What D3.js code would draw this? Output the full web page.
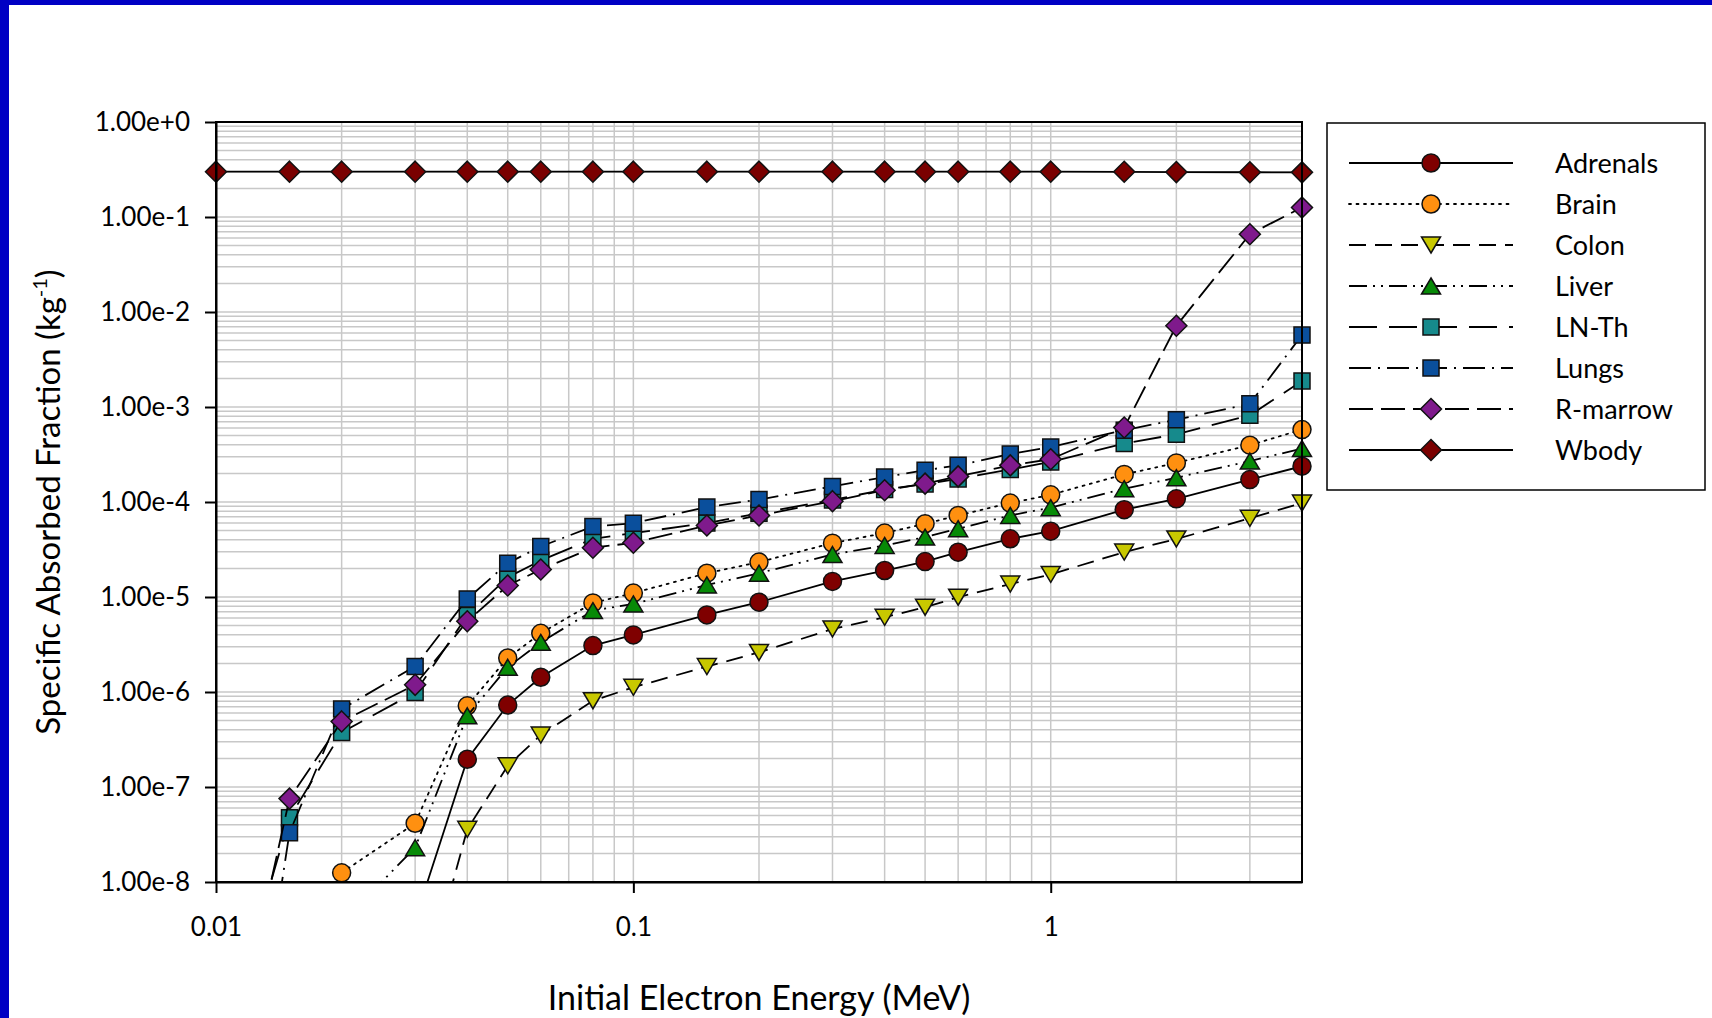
<!DOCTYPE html>
<html>
<head>
<meta charset="utf-8">
<script src="https://cdn.jsdelivr.net/npm/d3@7"></script>
<style>
  body { margin: 0; background: #fff; }
  svg { display: block; }
</style>
</head>
<body>
<svg id="chart" width="1712" height="1018"></svg>
<script>
// energies (MeV) and SAF values (kg^-1)
const energies = [0.01, 0.015, 0.02, 0.03, 0.04, 0.05, 0.06, 0.08, 0.1, 0.15, 0.2, 0.3, 0.4, 0.5, 0.6, 0.8, 1, 1.5, 2, 3, 4];

const adrenals = [null, null, null, 4.0e-9, 1.96e-7, 7.29e-7, 1.43e-6, 3.08e-6, 3.99e-6, 6.48e-6, 8.81e-6, 1.46e-5, 1.9e-5, 2.36e-5, 2.96e-5, 4.1e-5, 4.93e-5, 8.3e-5, 1.08e-4, 1.72e-4, 2.38e-4];
const brain = [null, null, 1.25e-8, 4.15e-8, 7.16e-7, 2.28e-6, 4.15e-6, 8.67e-6, 1.1e-5, 1.78e-5, 2.33e-5, 3.69e-5, 4.71e-5, 5.9e-5, 7.22e-5, 9.75e-5, 1.19e-4, 1.95e-4, 2.58e-4, 3.96e-4, 5.79e-4];
const colon = [null, null, null, 3.5e-10, 3.59e-8, 1.67e-7, 3.52e-7, 8.09e-7, 1.12e-6, 1.85e-6, 2.61e-6, 4.61e-6, 6.12e-6, 7.8e-6, 9.94e-6, 1.37e-5, 1.73e-5, 2.97e-5, 4.08e-5, 6.73e-5, 9.75e-5];
const liver = [null, null, 3.7e-9, 2.3e-8, 5.62e-7, 1.82e-6, 3.33e-6, 7.19e-6, 8.46e-6, 1.34e-5, 1.78e-5, 2.8e-5, 3.49e-5, 4.27e-5, 5.23e-5, 7.22e-5, 8.71e-5, 1.38e-4, 1.8e-4, 2.7e-4, 3.65e-4];
const lnTh = [1e-10, 4.76e-8, 3.75e-7, 9.9e-7, 6.37e-6, 1.61e-5, 2.42e-5, 4.1e-5, 4.7e-5, 6.0e-5, 7.6e-5, 1.05e-4, 1.35e-4, 1.55e-4, 1.75e-4, 2.2e-4, 2.64e-4, 4.12e-4, 5.16e-4, 8.19e-4, 1.88e-3];
const lungs = [3e-13, 3.3e-8, 6.61e-7, 1.86e-6, 9.55e-6, 2.27e-5, 3.4e-5, 5.53e-5, 5.98e-5, 8.85e-5, 1.06e-4, 1.46e-4, 1.83e-4, 2.16e-4, 2.43e-4, 3.2e-4, 3.8e-4, 5.7e-4, 7.35e-4, 1.08e-3, 5.71e-3];
const rMarrow = [2.5e-11, 7.55e-8, 4.9e-7, 1.19e-6, 5.55e-6, 1.32e-5, 1.95e-5, 3.3e-5, 3.72e-5, 5.66e-5, 7.22e-5, 1.02e-4, 1.33e-4, 1.56e-4, 1.86e-4, 2.43e-4, 2.82e-4, 6.08e-4, 7.16e-3, 6.59e-2, 0.126];
const wbody = [0.30, 0.30, 0.30, 0.30, 0.30, 0.30, 0.30, 0.30, 0.30, 0.30, 0.30, 0.30, 0.30, 0.30, 0.30, 0.30, 0.30, 0.299, 0.297, 0.296, 0.295];

const seriesNames = ['Adrenals', 'Brain', 'Colon', 'Liver', 'LN-Th', 'Lungs', 'R-marrow', 'Wbody'];
const seriesValues = [adrenals, brain, colon, liver, lnTh, lungs, rMarrow, wbody];

const xTicks = [0.01, 0.1, 1];
const xTickLabels = ['0.01', '0.1', '1'];
const yTicks = [1, 1e-1, 1e-2, 1e-3, 1e-4, 1e-5, 1e-6, 1e-7, 1e-8];
const yTickLabels = ['1.00e+0', '1.00e-1', '1.00e-2', '1.00e-3', '1.00e-4', '1.00e-5', '1.00e-6', '1.00e-7', '1.00e-8'];

// look of each series
const styles = {
  'Adrenals': { color: '#7f0000', symbol: 'circle', dash: null },
  'Brain': { color: '#ff9010', symbol: 'circle', dash: '2 5.5' },
  'Colon': { color: '#c8c800', symbol: 'triangleDown', dash: '17 9' },
  'Liver': { color: '#078a07', symbol: 'triangleUp', dash: '18 6 2 6 2 6' },
  'LN-Th': { color: '#168a8c', symbol: 'square', dash: '28 12' },
  'Lungs': { color: '#0a4f9c', symbol: 'square', dash: '22 7 2 7' },
  'R-marrow': { color: '#7f1a8c', symbol: 'diamond', dash: '24 8' },
  'Wbody': { color: '#7a0000', symbol: 'diamond', dash: null }
};

const font = 'Lato, "Open Sans", sans-serif';
const plot = { left: 216, top: 122, right: 1302, bottom: 882 };

const svg = d3.select('#chart');

// blue slide frame
svg.append('rect').attr('width', 1712).attr('height', 1018).attr('fill', '#fff');
svg.append('rect').attr('width', 1712).attr('height', 5).attr('fill', '#0000c4');
svg.append('rect').attr('width', 9).attr('height', 1018).attr('fill', '#0000c4');

const x = d3.scaleLog().domain([0.01, 4]).range([plot.left, plot.right]);
const y = d3.scaleLog().domain([1e-8, 1]).range([plot.bottom, plot.top]);

// minor grid positions
const xGrid = [];
[-2, -1, 0].forEach(k => {
  for (let m = 1; m <= 9; m++) {
    const v = m * Math.pow(10, k);
    if (v <= 4) { xGrid.push(v); }
  }
});
const yGrid = [];
for (let k = -8; k < 0; k++) {
  for (let m = 1; m <= 9; m++) { yGrid.push(m * Math.pow(10, k)); }
}

const grid = svg.append('g')
  .attr('stroke', '#c8c8c8')
  .attr('stroke-width', 1.5);
grid.selectAll('line.h')
  .data(yGrid)
  .join('line')
  .attr('class', 'h')
  .attr('x1', plot.left).attr('x2', plot.right)
  .attr('y1', d => y(d)).attr('y2', d => y(d));
grid.selectAll('line.v')
  .data(xGrid)
  .join('line')
  .attr('class', 'v')
  .attr('y1', plot.top).attr('y2', plot.bottom)
  .attr('x1', d => x(d)).attr('x2', d => x(d));

// markers, centred on their bounding box like Excel does
function markerPath(type) {
  switch (type) {
    case 'circle': return d3.arc()({ innerRadius: 0, outerRadius: 9, startAngle: 0, endAngle: 2 * Math.PI });
    case 'square': return 'M-8,-8H8V8H-8Z';
    case 'diamond': return 'M0,-10.5L10.5,0L0,10.5L-10.5,0Z';
    case 'triangleUp': return 'M0,-8L9.5,8H-9.5Z';
    case 'triangleDown': return 'M0,8L9.5,-8H-9.5Z';
  }
}

svg.append('defs').append('clipPath').attr('id', 'plotClip')
  .append('rect')
  .attr('x', plot.left).attr('y', plot.top)
  .attr('width', plot.right - plot.left).attr('height', plot.bottom - plot.top);

const line = d3.line()
  .defined(d => d.v != null)
  .x(d => x(d.e))
  .y(d => y(d.v));

const series = seriesNames.map((name, i) => ({
  name,
  points: energies.map((e, j) => ({ e, v: seriesValues[i][j] }))
}));

const gSeries = svg.append('g');
series.forEach(s => {
  const st = styles[s.name];
  const g = gSeries.append('g');
  g.append('path')
    .attr('clip-path', 'url(#plotClip)')
    .attr('d', line(s.points))
    .attr('fill', 'none')
    .attr('stroke', '#000')
    .attr('stroke-width', 1.8)
    .attr('stroke-dasharray', st.dash)
    .attr('stroke-linecap', st.dash === '2 5.5' ? 'round' : 'butt');
  g.selectAll('path.m')
    .data(s.points.filter(p => p.v != null && p.v >= 1e-8))
    .join('path')
    .attr('class', 'm')
    .attr('transform', p => `translate(${ x(p.e) },${ y(p.v) })`)
    .attr('d', markerPath(st.symbol))
    .attr('fill', st.color)
    .attr('stroke', '#111')
    .attr('stroke-width', 1.5);
});

// plot frame
svg.append('rect')
  .attr('x', plot.left).attr('y', plot.top)
  .attr('width', plot.right - plot.left).attr('height', plot.bottom - plot.top)
  .attr('fill', 'none')
  .attr('stroke', '#000')
  .attr('stroke-width', 2);

// axes
const yAxis = svg.append('g')
  .attr('transform', `translate(${ plot.left },0)`)
  .call(d3.axisLeft(y).tickValues(yTicks).tickFormat((d, i) => yTickLabels[i]).tickSize(11).tickSizeOuter(0).tickPadding(15));
const xAxis = svg.append('g')
  .attr('transform', `translate(0,${ plot.bottom })`)
  .call(d3.axisBottom(x).tickValues(xTicks).tickFormat((d, i) => xTickLabels[i]).tickSize(11).tickSizeOuter(0));

[yAxis, xAxis].forEach(a => {
  a.select('.domain').attr('stroke-width', 2);
  a.selectAll('.tick line').attr('stroke-width', 2);
  a.selectAll('.tick text')
    .attr('font-family', font)
    .attr('font-size', 26)
    .attr('fill', '#000');
});
xAxis.selectAll('.tick text').attr('dy', null).attr('y', 54);

// axis titles
svg.append('text')
  .attr('x', (plot.left + plot.right) / 2)
  .attr('y', 1010)
  .attr('text-anchor', 'middle')
  .attr('font-family', font)
  .attr('font-size', 34)
  .attr('fill', '#000')
  .text('Initial Electron Energy (MeV)');

const yTitle = svg.append('text')
  .attr('transform', `translate(60,${ (plot.top + plot.bottom) / 2 }) rotate(-90)`)
  .attr('text-anchor', 'middle')
  .attr('font-family', font)
  .attr('font-size', 33)
  .attr('fill', '#000');
yTitle.append('tspan').text('Specific Absorbed Fraction (kg');
yTitle.append('tspan').attr('dy', -13).attr('font-size', 20).text('-1');
yTitle.append('tspan').attr('dy', 13).text(')');

// legend
const legend = svg.append('g');
legend.append('rect')
  .attr('x', 1327).attr('y', 123)
  .attr('width', 378).attr('height', 367)
  .attr('fill', '#fff')
  .attr('stroke', '#000')
  .attr('stroke-width', 1.5);

const rows = legend.selectAll('g.row')
  .data(seriesNames)
  .join('g')
  .attr('class', 'row')
  .attr('transform', (d, i) => `translate(0,${ 163 + i * 41 })`);
rows.append('line')
  .attr('x1', 1349).attr('x2', 1513)
  .attr('stroke', '#000')
  .attr('stroke-width', 1.8)
  .attr('stroke-linecap', d => styles[d].dash === '2 5.5' ? 'round' : 'butt')
  .attr('stroke-dasharray', d => styles[d].dash);
rows.append('path')
  .attr('transform', 'translate(1431,0)')
  .attr('d', d => markerPath(styles[d].symbol))
  .attr('fill', d => styles[d].color)
  .attr('stroke', '#111')
  .attr('stroke-width', 1.5);
rows.append('text')
  .attr('x', 1555)
  .attr('y', 10)
  .attr('font-family', font)
  .attr('font-size', 27)
  .attr('fill', '#000')
  .text(d => d);
</script>
</body>
</html>
